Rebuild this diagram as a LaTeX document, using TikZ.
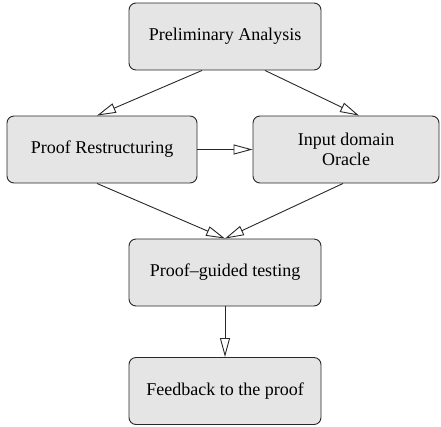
\documentclass[tikz,border=0pt]{standalone}
\usepackage{fontspec}
\setmainfont{Liberation Serif}
\usepackage{tikz}
\usetikzlibrary{positioning,arrows.meta}
\definecolor{boxfill}{RGB}{229,229,229}
\definecolor{boxdraw}{RGB}{40,40,40}
\tikzset{
  proc box/.style={
    rectangle,
    rounded corners=7pt,
    draw=boxdraw,
    fill=boxfill,
    line width=0.9pt,
    minimum width=192pt,
    minimum height=67pt,
    align=center,
    font=\fontsize{18}{20}\selectfont
  },
  flow arrow/.style={
    -{Triangle[open, length=19pt, width=10pt]},
    line width=0.9pt,
    draw=boxdraw
  }
}

\begin{document}
\begin{tikzpicture}[x=1pt, y=-1pt]
  \useasboundingbox (0,0) rectangle (441,426);

  % Boxes
  \node[proc box] (prelim) at (225,36.5) {Preliminary Analysis};
  \node[proc box, minimum width=190pt] (restruct) at (102,149.5) {Proof Restructuring};
  \node[proc box, minimum width=186pt] (oracle) at (346,149.5) {Input domain\\Oracle};
  \node[proc box] (testing) at (225,272.5) {Proof\textendash guided testing};
  \node[proc box] (feedback) at (225,391) {Feedback to the proof};

  % Arrows
  \draw[flow arrow] ([xshift=-23pt]prelim.south) -- ([xshift=-5pt]restruct.north);
  \draw[flow arrow] ([xshift=40pt]prelim.south) -- ([xshift=13pt]oracle.north);
  \draw[flow arrow] (restruct.east) -- (oracle.west);
  \draw[flow arrow] ([xshift=-5pt]restruct.south) -- (testing.north);
  \draw[flow arrow] ([xshift=-3pt]oracle.south) -- (testing.north);
  \draw[flow arrow] (testing.south) -- (feedback.north);
\end{tikzpicture}
\end{document}
